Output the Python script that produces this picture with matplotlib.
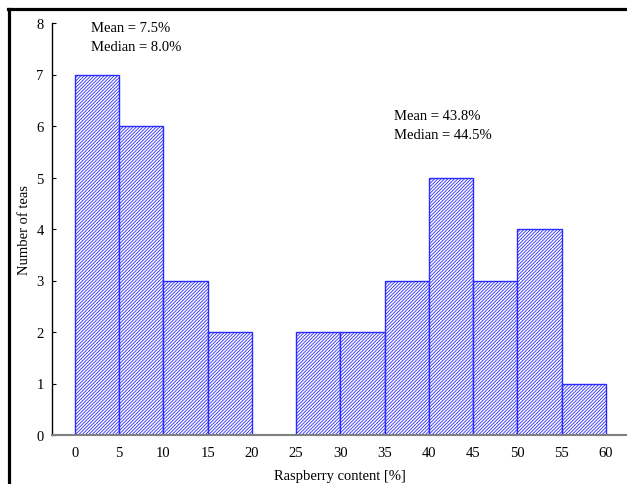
import matplotlib
matplotlib.use("Agg")
import matplotlib.pyplot as plt
from matplotlib.lines import Line2D

# Histogram of raspberry content, 5 % wide bins
bin_edges = [0, 5, 10, 15, 20, 25, 30, 35, 40, 45, 50, 55, 60]
counts = [7, 6, 3, 2, 0, 2, 2, 3, 5, 3, 4, 1]
x_ticks = [0, 5, 10, 15, 20, 25, 30, 35, 40, 45, 50, 55, 60]
y_ticks = [0, 1, 2, 3, 4, 5, 6, 7, 8]

low_group = ["Mean = 7.5%", "Median = 8.0%"]
high_group = ["Mean = 43.8%", "Median = 44.5%"]

plt.rcParams['font.family'] = ['Liberation Serif', 'DejaVu Serif']
plt.rcParams['hatch.linewidth'] = 0.6

fig = plt.figure(figsize=(6.27, 4.85), dpi=100)
ax = fig.add_axes([52 / 627, 49 / 485, 575 / 627, 412 / 485])

lefts = bin_edges[:-1]
widths = [b - a for a, b in zip(bin_edges[:-1], bin_edges[1:])]
ax.bar(lefts, counts, width=widths, align='edge', color='white',
       edgecolor='#2a2aff', hatch='//////////', linewidth=1.0)

ax.set_xlim(-2.6, 62.4)
ax.set_ylim(0, 8)
ax.set_xticks(x_ticks)
ax.set_yticks(y_ticks)
ax.tick_params(axis='x', length=0, pad=8, labelsize=10.5)
ax.tick_params(axis='y', direction='in', length=3, pad=6, labelsize=10.5)

ax.spines['top'].set_visible(False)
ax.spines['right'].set_visible(False)
ax.spines['bottom'].set_color('#808080')
ax.spines['bottom'].set_linewidth(1.5)
ax.spines['left'].set_linewidth(1.0)

ax.set_xlabel('Raspberry content [%]', fontsize=10.5, labelpad=7)
ax.set_ylabel('Number of teas', fontsize=10.5, labelpad=4)

# summary statistics for each group
ax.text(1.8, 8.03, '\n'.join(low_group), fontsize=10.5, va='top', ha='left',
        linespacing=1.55)
ax.text(36.1, 6.33, '\n'.join(high_group), fontsize=10.5, va='top', ha='left',
        linespacing=1.55)

# outer frame
fig.add_artist(Line2D([9 / 627, 9 / 627], [0, 1 - 10 / 485],
                      transform=fig.transFigure, color='black', linewidth=2.3))
fig.add_artist(Line2D([8 / 627, 1], [1 - 10 / 485, 1 - 10 / 485],
                      transform=fig.transFigure, color='black', linewidth=2.3))

fig.savefig('out.png', dpi=100)
